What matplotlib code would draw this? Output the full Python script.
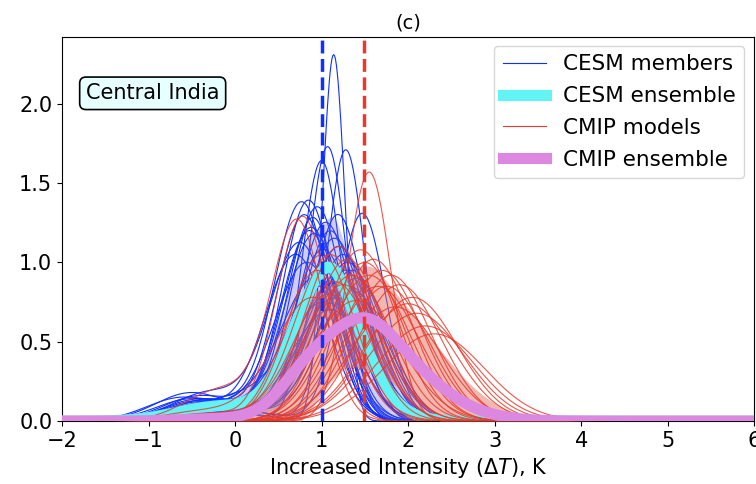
import numpy as np
import matplotlib
matplotlib.use("Agg")
import matplotlib.pyplot as plt
from matplotlib.lines import Line2D

# CESM members: peak position, peak height, width, left-tail height, left-tail position
cesm_peak_x = [1.14, 1.07, 1.28, 1.00, 0.85, 0.77, 1.47, 0.80, 0.90, 0.95,
               1.05, 1.10, 1.15, 1.20, 1.25, 1.30, 1.35, 0.88, 0.92, 1.02,
               1.12, 1.18, 1.22, 0.70, 0.75, 1.40, 0.98, 1.08, 1.16, 1.32,
               0.83, 1.26, 1.04, 0.94, 1.19, 1.10, 0.86, 1.36]
cesm_peak_y = [2.31, 1.73, 1.71, 1.64, 1.39, 1.38, 1.31, 1.30, 1.28, 1.35,
               1.25, 1.20, 1.15, 1.10, 1.05, 1.00, 0.95, 1.22, 1.18, 1.08,
               0.98, 0.92, 0.88, 1.05, 1.12, 0.90, 0.85, 0.80, 0.78, 0.85,
               1.00, 0.95, 0.75, 0.90, 1.30, 0.70, 1.20, 0.82]
cesm_width = [0.13, 0.22, 0.22, 0.23, 0.30, 0.32, 0.27, 0.32, 0.30, 0.30,
              0.32, 0.33, 0.34, 0.35, 0.36, 0.37, 0.38, 0.33, 0.34, 0.35,
              0.38, 0.38, 0.40, 0.36, 0.35, 0.38, 0.42, 0.42, 0.42, 0.40,
              0.38, 0.38, 0.45, 0.40, 0.30, 0.45, 0.33, 0.40]
cesm_tail_y = [0.06, 0.08, 0.07, 0.12, 0.14, 0.16, 0.06, 0.18, 0.11, 0.12,
               0.09, 0.11, 0.07, 0.06, 0.09, 0.06, 0.06, 0.14, 0.12, 0.11,
               0.10, 0.08, 0.06, 0.15, 0.18, 0.06, 0.12, 0.11, 0.09, 0.06,
               0.14, 0.08, 0.13, 0.11, 0.08, 0.12, 0.13, 0.06]
cesm_tail_x = [-0.1, -0.3, 0.0, -0.2, -0.3, -0.4, 0.1, -0.5, -0.2, -0.3,
               0.0, -0.4, 0.1, 0.1, -0.1, 0.0, 0.1, -0.4, -0.2, -0.1,
               -0.3, 0.1, 0.1, -0.6, -0.3, 0.2, -0.4, -0.2, 0.0, 0.1,
               -0.5, 0.1, -0.1, 0.0, 0.1, -0.3, -0.4, 0.2]

# CMIP models
cmip_peak_x = [1.55, 0.78, 0.72, 1.00, 1.10, 1.20, 1.30, 1.45, 1.50, 1.60,
               1.70, 1.80, 1.90, 2.00, 2.10, 2.20, 1.35, 1.65, 1.85, 1.25,
               1.15, 0.95, 2.05, 1.75, 1.40, 1.55, 0.90, 2.30]
cmip_peak_y = [1.57, 1.29, 1.25, 1.05, 1.05, 1.10, 1.02, 1.08, 1.00, 1.02,
               0.95, 0.92, 0.86, 0.74, 0.68, 0.60, 0.92, 0.85, 0.72, 0.86,
               0.88, 0.95, 0.78, 0.85, 0.76, 0.92, 0.78, 0.55]
cmip_width = [0.25, 0.30, 0.30, 0.38, 0.40, 0.40, 0.42, 0.42, 0.44, 0.44,
              0.46, 0.46, 0.48, 0.52, 0.55, 0.56, 0.45, 0.48, 0.52, 0.45,
              0.44, 0.38, 0.52, 0.48, 0.52, 0.46, 0.45, 0.58]
cmip_tail_y = [0.00, 0.05, 0.20, 0.00, 0.03, 0.00, 0.02, 0.00, 0.00, 0.00,
               0.00, 0.00, 0.00, 0.00, 0.00, 0.00, 0.00, 0.00, 0.00, 0.00,
               0.04, 0.00, 0.00, 0.00, 0.00, 0.00, 0.06, 0.00]
cmip_tail_x = [0.0, -0.3, -0.15, 0.0, -0.1, 0.0, 0.1, 0.0, 0.0, 0.0,
               0.0, 0.0, 0.0, 0.0, 0.0, 0.0, 0.0, 0.0, 0.0, 0.0,
               -0.2, 0.0, 0.0, 0.0, 0.0, 0.0, -0.4, 0.0]

cesm_mean_line = 1.0
cmip_mean_line = 1.49

x = np.linspace(-2, 6.2, 800)


def member_curve(px, py, w, ty, tx):
    main = py * np.exp(-0.5 * ((x - px) / w) ** 2)
    tail = ty * np.exp(-0.5 * ((x - tx) / 0.42) ** 2)
    return main + tail


cesm = np.array([member_curve(*p) for p in zip(cesm_peak_x, cesm_peak_y, cesm_width, cesm_tail_y, cesm_tail_x)])
cmip = np.array([member_curve(*p) for p in zip(cmip_peak_x, cmip_peak_y, cmip_width, cmip_tail_y, cmip_tail_x)])

cesm_mean, cesm_std = cesm.mean(axis=0), cesm.std(axis=0)
cmip_mean, cmip_std = cmip.mean(axis=0), cmip.std(axis=0)

fig = plt.figure(figsize=(7.56, 4.84), dpi=100)
ax = fig.add_axes([0.082, 0.130, 0.9156, 0.793])

for c in cesm:
    ax.plot(x, c, color="#1030ff", lw=0.8, zorder=2)
ax.fill_between(x, cesm_mean - cesm_std, cesm_mean + cesm_std, color="#6060e0", alpha=0.3, lw=0, zorder=2.5)
ax.fill_between(x, cmip_mean - cmip_std, cmip_mean + cmip_std, color="#e87060", alpha=0.5, lw=0, zorder=3)
ax.plot(x, cesm_mean, color="#62f4f4", lw=8, zorder=3.5, solid_capstyle="round")
for c in cmip:
    ax.plot(x, c, color="#e8392b", lw=0.8, alpha=0.85, zorder=4)
ax.plot(x, cmip_mean, color="#dc88e0", lw=8, zorder=5, solid_capstyle="round")

ax.axvline(cesm_mean_line, color="#1030ff", ls="--", lw=2.5, zorder=6)
ax.axvline(cmip_mean_line, color="#e8392b", ls="--", lw=2.5, zorder=6)

ax.set_xlim(-2, 6)
ax.set_ylim(0, 2.42)
ax.set_xticks(range(-2, 7))
ax.set_yticks([0.0, 0.5, 1.0, 1.5, 2.0])
ax.tick_params(labelsize=15)
ax.set_xlabel("Increased Intensity ($\\Delta T$), K", fontsize=15)
ax.set_title("(c)", fontsize=14)

ax.text(0.131, 0.854, "Central India", transform=ax.transAxes, fontsize=15,
        ha="center", va="center",
        bbox=dict(boxstyle="round,pad=0.3", facecolor="#e6ffff", edgecolor="black", lw=1.2))

handles = [
    Line2D([], [], color="#1030ff", lw=0.8),
    Line2D([], [], color="#62f4f4", lw=8),
    Line2D([], [], color="#e8392b", lw=0.8),
    Line2D([], [], color="#dc88e0", lw=8),
]
labels = ["CESM members", "CESM ensemble", "CMIP models", "CMIP ensemble"]
ax.legend(handles, labels, loc="upper right", fontsize=15.5, bbox_to_anchor=(0.995, 0.995),
          labelspacing=0.55, borderaxespad=0.3)

fig.savefig("out.png", dpi=100)
